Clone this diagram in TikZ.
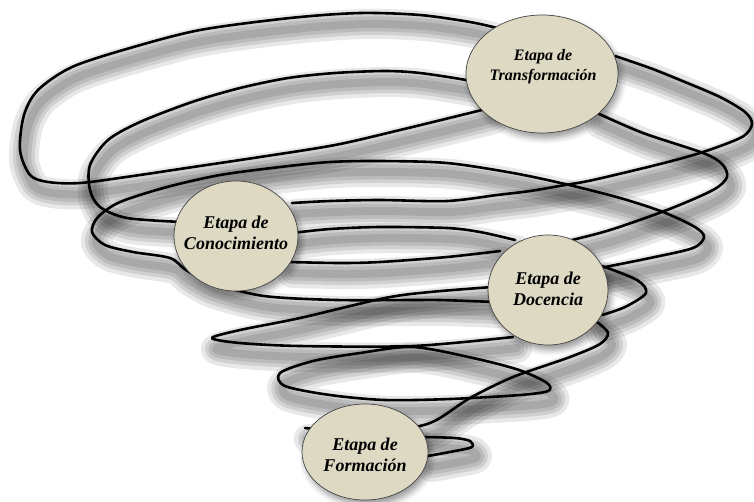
\documentclass[tikz,border=0pt]{standalone}
\usepackage{fontspec}
\setmainfont{Liberation Serif}
\usetikzlibrary{shapes.geometric,shadows.blur}
\definecolor{beige}{RGB}{221,217,195}
\definecolor{borde}{RGB}{70,70,70}
% the strands of the spiral; \tramo is set to shadow or line before each pass
\newcommand{\espiral}{%
  \tramo{(497,28) (470,22) (420,15) (360,13) (290,18) (200,30) (130,48) (72,67) (38,90) (24,115) (20,150) (30,175) (48,182) (80,183) (133,176) (193,167) (260,157) (335,145) (400,130) (490,108)}
  \tramo{(480,84) (466,80) (420,73) (385,71) (335,73) (288,78) (240,88) (192,102) (140,122) (108,140) (90,165) (90,190) (100,207) (127,218) (182,222)}
  \tramo{(495,302) (440,300) (413,300) (337,300) (264,296) (211,283) (186,270) (170,258) (133,252) (105,245) (92,232) (98,217) (120,202) (167,187) (220,175) (280,167) (330,162) (380,161) (447,163) (513,173) (565,184) (620,198) (663,212) (695,227) (704,237) (693,248) (650,258) (600,268)}
  \tramo{(615,56) (650,68) (680,80) (720,97) (745,112) (752,124) (742,137) (703,152) (660,164) (593,180) (565,185) (530,191) (497,195) (447,201) (380,200) (330,201) (292,203)}
  \tramo{(597,113) (643,133) (703,153) (722,164) (727,177) (713,190) (667,210) (610,230) (572,240)}
  \tramo{(292,233) (330,229) (380,227) (447,228) (480,232) (515,240)}
  \tramo{(288,262) (340,263) (380,262) (447,257) (500,251)}
  \tramo{(602,266) (637,280) (646,293) (625,307) (602,315)}
  \tramo{(492,287) (430,292) (385,298) (300,318) (240,330) (212,338) (240,343) (300,346) (413,346) (513,337)}
  \tramo[smooth cycle]{(413,347) (360,353) (313,361) (280,373) (285,386) (330,395) (385,400) (450,399) (520,395) (548,391) (547,383) (519,370) (473,358)}
  \tramo{(597,322) (608,333) (600,344) (570,357) (513,377) (470,398) (430,423) (380,432) (330,430) (305,428)}
  \tramo{(425,437) (455,438) (470,441) (472,447) (455,451) (428,456)}}
\newcommand{\sombratramo}[2][smooth]{%
  \draw[sombra,opacity=0.09,line width=30pt] plot[#1] coordinates {#2};
  \draw[sombra,opacity=0.10,line width=22pt] plot[#1] coordinates {#2};
  \draw[sombra,opacity=0.10,line width=15pt] plot[#1] coordinates {#2};
  \draw[sombra,opacity=0.10,line width=8pt] plot[#1] coordinates {#2};}
\newcommand{\lineatramo}[2][smooth]{%
  \draw[linea] plot[#1] coordinates {#2};}

\begin{document}
\begin{tikzpicture}[x=1pt,y=-1pt,
    linea/.style={line width=2.6pt,black,line cap=round,line join=round},
    sombra/.style={black,shift={(4,11)},line cap=round,line join=round},
    etapa/.style={ellipse,draw=borde,line width=0.7pt,fill=beige,inner sep=0pt,
      blur shadow={shadow xshift=3pt,shadow yshift=-5pt,shadow blur radius=6pt,shadow opacity=40}},
    rotulo/.style={align=center,text=black,font=\fontsize{18}{21.5}\selectfont\bfseries\itshape}]
      \useasboundingbox (0,0) rectangle (754,501);

      % spiral: shadows first, then the lines
      \def\tramo{\sombratramo}\espiral
      \def\tramo{\lineatramo}\espiral

      % stages
      \node[etapa,minimum width=152pt,minimum height=118pt] (transf) at (542,74) {};
      \node[etapa,minimum width=124pt,minimum height=110pt] (conoc) at (236,236) {};
      \node[etapa,minimum width=120pt,minimum height=110pt] (docen) at (548,290) {};
      \node[etapa,minimum width=126pt,minimum height=96pt] (forma) at (365,452) {};

      \node[rotulo,font=\fontsize{16}{20}\selectfont\bfseries\itshape] (ttransf) at (543,67) {Etapa de\\Transformación};
      \node[rotulo] (tconoc) at (236,233) {Etapa de\\Conocimiento};
      \node[rotulo] (tdocen) at (548,289) {Etapa de\\Docencia};
      \node[rotulo] (tforma) at (365,455) {Etapa de\\Formación};
\end{tikzpicture}
\end{document}
